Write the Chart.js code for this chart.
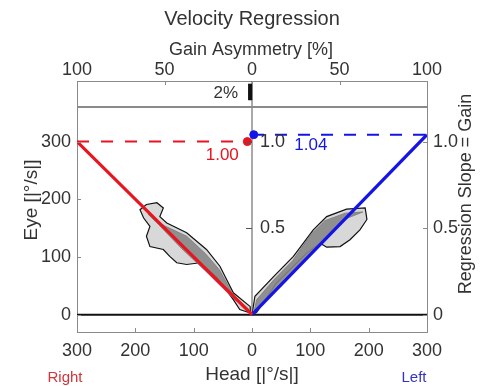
<!DOCTYPE html>
<html><head><meta charset="utf-8">
<script src="https://cdn.jsdelivr.net/npm/chart.js@4/dist/chart.umd.min.js"></script>
<style>html,body{margin:0;padding:0;background:#fff;}canvas{display:block;}</style>
</head><body>
<canvas id="c" width="495" height="386"></canvas>
<script>
// ---- data ----
const headTicks = [-300, -200, -100, 0, 100, 200, 300];
const eyeTicks = [0, 100, 200, 300];
const gainTicks = [0, 0.5, 1.0];
const asymTicks = [-100, -50, 0, 50, 100];
const centerGainTicks = [0.5, 1.0];

const rightGain = 1.00;   // head to the right (negative x side)
const leftGain = 1.04;
const asymmetryPct = -2;

const rightRegression = [{x: -300, y: 300}, {x: 0, y: 0}];
const leftRegression = [{x: 0, y: 0}, {x: 300, y: 312}];
const rightGainLine = [{x: -300, y: 1.00}, {x: 0, y: 1.00}];
const leftGainLine = [{x: 0, y: 1.04}, {x: 300, y: 1.04}];
const rightGainDot = [{x: -8, y: 1.00}];
const leftGainDot = [{x: 3, y: 1.04}];

const rightContour = [
  {x:-3,y:14},{x:-32,y:38},{x:-55,y:84},{x:-78,y:113},{x:-112,y:142},{x:-146,y:159},
  {x:-158,y:170},{x:-152,y:185},{x:-163,y:194},{x:-181,y:191},{x:-192,y:182},{x:-186,y:168},
  {x:-175,y:153},{x:-181,y:136},{x:-175,y:118},{x:-152,y:113},{x:-141,y:101},{x:-129,y:90},
  {x:-112,y:87},{x:-89,y:90},{x:-61,y:66},{x:-32,y:26},{x:-21,y:9},{x:-3,y:3},{x:-3,y:14}
];
const leftContour = [
  {x:0,y:0},{x:5,y:32},{x:37,y:66},{x:71,y:101},{x:105,y:147},{x:128,y:170},{x:162,y:183},
  {x:194,y:185},{x:197,y:165},{x:185,y:147},{x:168,y:130},{x:151,y:118},{x:128,y:117},
  {x:117,y:124},{x:94,y:107},{x:71,y:84},{x:42,y:55},{x:19,y:20},{x:8,y:4},{x:0,y:0}
];
const rightBand = [
  {x:-3,y:3},{x:-40,y:36},{x:-80,y:76},{x:-120,y:114},{x:-160,y:156},{x:-178,y:174},
  {x:-150,y:154},{x:-112,y:136},{x:-80,y:106},{x:-56,y:78},{x:-32,y:34},{x:-6,y:10},{x:-3,y:3}
];
const leftBand = [
  {x:3,y:3},{x:40,y:42},{x:80,y:83},{x:120,y:125},{x:160,y:166},{x:190,y:178},
  {x:160,y:176},{x:125,y:163},{x:100,y:138},{x:70,y:94},{x:37,y:60},{x:8,y:26},{x:3,y:3}
];
const stripLine = [{x: -300, y: 360}, {x: 300, y: 360}];
const zeroLine = [{x: -300, y: 0}, {x: 300, y: 0}];
const centerLine = [{x: 0, y: 0}, {x: 0, y: 405}];
const asymBar = [{x: asymmetryPct, y: 372}, {x: 0, y: 372}, {x: 0, y: 400}, {x: asymmetryPct, y: 400}, {x: asymmetryPct, y: 372}];

// ---- styling ----
const RED = '#e8141e', BLUE = '#1414e6', TXT = '#333333', AX = '#8a8a8a';
const FONT = '"Liberation Sans", Arial, sans-serif';

function line(data, color, width, order, extra) {
  return Object.assign({data, borderColor: color, borderWidth: width, showLine: true,
    pointRadius: 0, fill: false, order, tension: 0}, extra || {});
}

const deco = {
  id: 'deco',
  afterDraw(chart) {
    const {ctx, scales: {x, x2, y, y2}, chartArea: a} = chart;
    ctx.save();
    ctx.strokeStyle = AX; ctx.lineWidth = 1;
    const seg = (x1, y1, xx, yy) => { ctx.beginPath(); ctx.moveTo(x1, y1); ctx.lineTo(xx, yy); ctx.stroke(); };
    headTicks.forEach(v => { const p = Math.round(x.getPixelForValue(v)) + 0.5; seg(p, a.bottom, p, a.bottom - 4); });
    asymTicks.forEach(v => { const p = Math.round(x2.getPixelForValue(v)) + 0.5; seg(p, a.top, p, a.top + 4); });
    eyeTicks.forEach(v => { const p = Math.round(y.getPixelForValue(v)) + 0.5; seg(a.left, p, a.left + 4, p); });
    gainTicks.forEach(v => { const p = Math.round(y2.getPixelForValue(v)) + 0.5; seg(a.right, p, a.right - 4, p); });
    const cx = x.getPixelForValue(0);
    ctx.strokeStyle = '#555';
    centerGainTicks.forEach(v => { const p = Math.round(y2.getPixelForValue(v)) + 0.5; seg(cx - 6, p, cx, p); });

    const text = (s, px, py, size, color, align, rot) => {
      ctx.save();
      ctx.font = size + 'px ' + FONT; ctx.fillStyle = color;
      ctx.textAlign = align || 'center'; ctx.textBaseline = 'middle';
      ctx.translate(px, py); if (rot) ctx.rotate(rot);
      ctx.fillText(s, 0, 0); ctx.restore();
    };
    centerGainTicks.forEach(v => text(v.toFixed(1), cx + 8, y2.getPixelForValue(v), 18, TXT, 'left'));
    text(rightGain.toFixed(2), x.getPixelForValue(-51), y.getPixelForValue(277), 17, RED);
    text(leftGain.toFixed(2), x.getPixelForValue(101), y.getPixelForValue(293), 17, BLUE);
    text(Math.abs(asymmetryPct) + '%', x2.getPixelForValue(-8), y.getPixelForValue(383), 17, TXT, 'right');

    text('Velocity Regression', 252, 19, 20, TXT);
    text('Gain Asymmetry [%]', 251, 50, 18, TXT);
    text('Head [|°/s|]', 252, 375, 19, TXT);
    text('Right', 65, 378, 15, '#d2343c');
    text('Left', 414, 378, 15, '#3434c4');
    text('Eye [|°/s|]', 32, 200, 19, TXT, 'center', -Math.PI / 2);
    text('Regression Slope = Gain', 466, 194, 18, TXT, 'center', -Math.PI / 2);
    ctx.restore();
  }
};

function fixTicks(vals) { return s => { s.ticks = vals.map(v => ({value: v})); }; }
const tickFont = {family: FONT, size: 18};
const border = {display: true, color: AX, width: 1};

new Chart(document.getElementById('c'), {
  type: 'scatter',
  data: {
    datasets: [
      line(rightContour, '#111', 1.2, 20, {fill: 'shape', backgroundColor: 'rgba(190,190,190,0.6)'}),
      line(leftContour, '#111', 1.2, 20, {fill: 'shape', backgroundColor: 'rgba(190,190,190,0.6)'}),
      line(rightBand, 'rgba(120,120,120,0.8)', 1, 19, {fill: 'shape', backgroundColor: 'rgba(135,135,135,0.9)'}),
      line(leftBand, 'rgba(120,120,120,0.8)', 1, 19, {fill: 'shape', backgroundColor: 'rgba(135,135,135,0.9)'}),
      line(centerLine, '#555', 1, 15),
      line(stripLine, AX, 2, 14),
      line(asymBar, '#111', 0.5, 14, {xAxisID: 'x2', fill: 'shape', backgroundColor: '#111'}),
      line(zeroLine, '#111', 2, 13),
      line(rightGainLine, RED, 2, 10, {yAxisID: 'y2', borderDash: [12, 12]}),
      line(leftGainLine, BLUE, 2, 10, {yAxisID: 'y2', borderDash: [12, 11]}),
      line(rightRegression, RED, 3.2, 5),
      line(leftRegression, BLUE, 3.2, 5),
      {data: rightGainDot, yAxisID: 'y2', pointRadius: 4, backgroundColor: RED, borderColor: RED, order: 1},
      {data: leftGainDot, yAxisID: 'y2', pointRadius: 4, backgroundColor: BLUE, borderColor: BLUE, order: 1}
    ]
  },
  options: {
    responsive: false, animation: false, devicePixelRatio: 1,
    layout: {padding: 0},
    plugins: {legend: {display: false}, title: {display: false}, tooltip: {enabled: false}},
    scales: {
      x: {type: 'linear', position: 'bottom', min: -300, max: 300,
        afterBuildTicks: fixTicks(headTicks), afterFit: s => { s.height = 54; },
        grid: {display: false, drawTicks: false}, border,
        ticks: {font: tickFont, color: TXT, padding: 8, maxRotation: 0, callback: v => String(Math.abs(v))}},
      x2: {type: 'linear', position: 'top', min: -100, max: 100,
        afterBuildTicks: fixTicks(asymTicks), afterFit: s => { s.height = 81; },
        grid: {display: false, drawTicks: false}, border,
        ticks: {font: tickFont, color: TXT, padding: 0, maxRotation: 0, callback: v => String(Math.abs(v))}},
      y: {type: 'linear', position: 'left', min: -30, max: 405,
        afterBuildTicks: fixTicks(eyeTicks), afterFit: s => { s.width = 77; },
        grid: {display: false, drawTicks: false}, border,
        ticks: {font: tickFont, color: TXT, padding: 6}},
      y2: {type: 'linear', position: 'right', min: -0.1, max: 1.35,
        afterBuildTicks: fixTicks(gainTicks), afterFit: s => { s.width = 68; },
        grid: {display: false, drawTicks: false}, border,
        ticks: {font: tickFont, color: TXT, padding: 6, callback: v => v === 0 ? '0' : v.toFixed(1)}}
    }
  },
  plugins: [deco]
});
</script>
</body></html>
